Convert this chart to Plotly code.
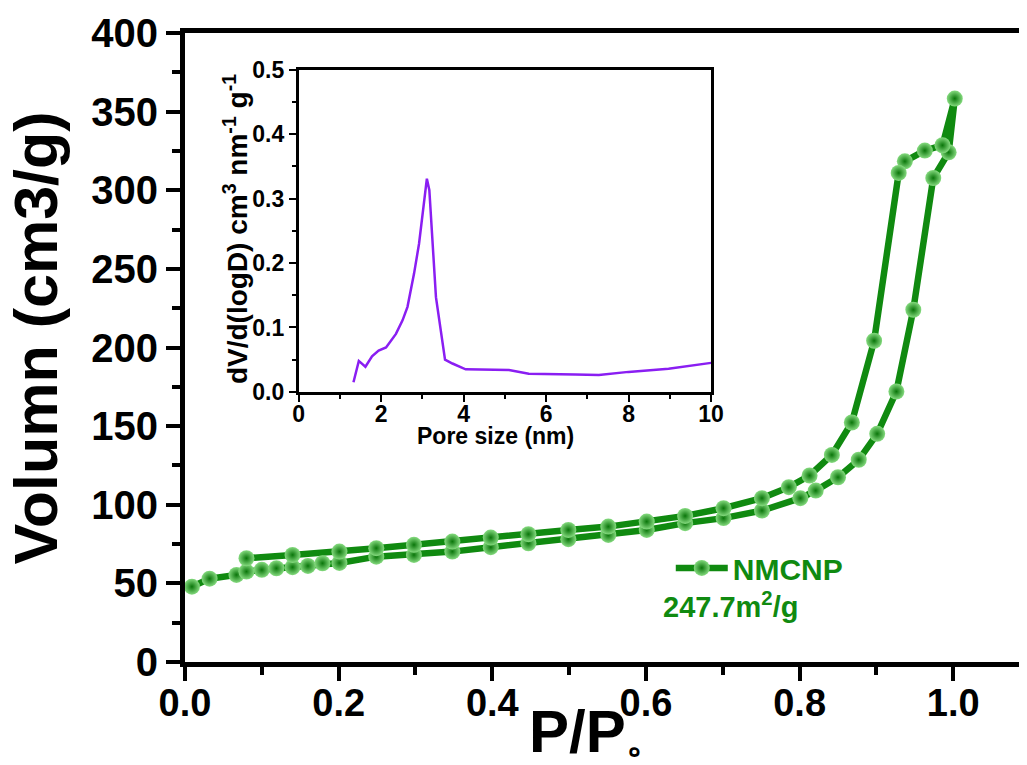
import plotly.graph_objects as go

# Adsorption branch (P/P0, volume cm3/g)
ads_p = [0.009, 0.032, 0.067, 0.080, 0.100, 0.119, 0.140, 0.160, 0.179, 0.201,
         0.249, 0.298, 0.348, 0.398, 0.447, 0.499, 0.551, 0.601, 0.651, 0.701,
         0.751, 0.801, 0.821, 0.850, 0.877, 0.901, 0.926, 0.948, 0.974, 0.994, 1.002]
ads_v = [47.9, 53.0, 55.4, 57.5, 58.6, 59.6, 60.3, 61.1, 62.8, 63.0,
         67.0, 68.1, 70.2, 73.0, 75.5, 78.1, 80.8, 84.0, 88.3, 91.5,
         96.3, 104.2, 109.0, 117.5, 128.6, 145.1, 172.0, 224.0, 307.8, 324.1, 358.3]

# Desorption branch
des_p = [0.986, 0.963, 0.937, 0.929, 0.897, 0.868, 0.842, 0.813, 0.786, 0.751,
         0.701, 0.651, 0.601, 0.551, 0.499, 0.447, 0.398, 0.348, 0.298, 0.249,
         0.201, 0.140, 0.080]
des_v = [328.6, 325.2, 318.4, 311.0, 204.3, 152.3, 131.7, 118.6, 111.2, 104.2,
         97.8, 92.9, 89.3, 86.1, 84.0, 81.3, 79.1, 76.6, 74.5, 72.4,
         70.2, 68.1, 66.0]

# Pore size distribution (inset)
pore_d = [1.33, 1.46, 1.62, 1.78, 1.94, 2.12, 2.36, 2.52, 2.64, 2.80, 2.92, 3.02,
          3.11, 3.17, 3.33, 3.55, 3.73, 4.05, 4.54, 5.10, 5.58, 6.15, 6.71, 7.28,
          8.00, 8.97, 9.53, 10.0]
pore_dv = [0.015, 0.048, 0.039, 0.055, 0.064, 0.069, 0.090, 0.111, 0.132, 0.184,
           0.230, 0.287, 0.331, 0.313, 0.147, 0.050, 0.044, 0.035, 0.034, 0.034,
           0.028, 0.028, 0.027, 0.026, 0.031, 0.036, 0.041, 0.045]

green = '#108a10'
font = 'Liberation Sans, Arial, sans-serif'

fig = go.Figure()

fig.add_trace(go.Scatter(
    x=ads_p + des_p, y=ads_v + des_v, mode='lines+markers', name='NMCNP',
    line=dict(color=green, width=6.5),
    marker=dict(size=16, color='#86db80', line=dict(width=0),
                gradient=dict(type='radial', color='#0a760a')),
))

fig.add_trace(go.Scatter(
    x=pore_d, y=pore_dv, mode='lines', showlegend=False,
    line=dict(color='#8a1ef2', width=2.5), xaxis='x2', yaxis='y2',
))

# the page body has an 8px margin, so the figure is offset by 8px
fig.update_layout(
    width=1029, height=765,
    margin=dict(l=177, r=0, t=25, b=111),
    plot_bgcolor='white', paper_bgcolor='white',
    font=dict(family=font, color='black'),
    showlegend=True,
    legend=dict(x=0.579, y=0.1496, xanchor='left', yanchor='middle',
                bgcolor='rgba(0,0,0,0)', itemwidth=52,
                font=dict(size=30, color=green, family=font, weight='bold')),
    xaxis=dict(range=[0, 1.0921], showline=True, linecolor='black', linewidth=5,
               mirror=True, showgrid=False, zeroline=False,
               tickmode='linear', tick0=0, dtick=0.2, tickformat='.1f',
               ticks='outside', ticklen=14, tickwidth=4, tickcolor='black',
               ticklabelstandoff=-11,
               minor=dict(ticks='outside', ticklen=8, tickwidth=4, dtick=0.1, tickcolor='black'),
               tickfont=dict(size=38, family=font, weight='bold')),
    yaxis=dict(range=[0, 400], showline=True, linecolor='black', linewidth=5,
               showgrid=False, zeroline=False,
               tickmode='linear', tick0=0, dtick=50,
               ticks='outside', ticklen=14, tickwidth=4, tickcolor='black',
               minor=dict(ticks='outside', ticklen=8, tickwidth=4, dtick=25, tickcolor='black'),
               tickfont=dict(size=40, family=font, weight='bold')),
    xaxis2=dict(domain=[0.1354, 0.627], anchor='y2', range=[0, 10],
                showline=True, linecolor='black', linewidth=2.5, mirror=True,
                showgrid=False, zeroline=False, tickmode='linear', tick0=0, dtick=2,
                ticks='outside', ticklen=7, tickwidth=2, tickcolor='black',
                ticklabelstandoff=-7,
                minor=dict(ticks='outside', ticklen=4, tickwidth=2, dtick=1, tickcolor='black'),
                tickfont=dict(size=23, family=font, weight='bold')),
    yaxis2=dict(domain=[0.4295, 0.9414], anchor='x2', range=[0, 0.5],
                showline=True, linecolor='black', linewidth=2.5, mirror=True,
                showgrid=False, zeroline=False, tickmode='linear', tick0=0, dtick=0.1,
                tickformat='.1f',
                ticks='outside', ticklen=7, tickwidth=2, tickcolor='black',
                minor=dict(ticks='outside', ticklen=4, tickwidth=2, dtick=0.05, tickcolor='black'),
                tickfont=dict(size=23, family=font, weight='bold')),
)

annots = [
    dict(text='Volumn (cm3/g)', x=-0.178, y=0.5155, textangle=-90,
         font=dict(size=61, family=font, weight='bold')),
    dict(text="P/P<span style='font-size:40px'>。</span>", x=0.492, y=-0.111,
         font=dict(size=60, family=font, weight='bold')),
    dict(text='Pore size (nm)', x=0.3705, y=0.3596,
         font=dict(size=23, family=font, weight='bold')),
    dict(text='dV/d(logD) cm<sup>3</sup> nm<sup>-1</sup> g<sup>-1</sup>', x=0.0606, y=0.688,
         textangle=-90, font=dict(size=28, family=font, weight='bold')),
    dict(text='247.7m<sup>2</sup>/g', x=0.5677, y=0.0907, xanchor='left',
         font=dict(size=29, family=font, color=green, weight='bold')),
]
for a in annots:
    a.setdefault('xanchor', 'center')
    fig.add_annotation(xref='paper', yref='paper', yanchor='middle', showarrow=False, **a)

fig.write_html('out.html')
